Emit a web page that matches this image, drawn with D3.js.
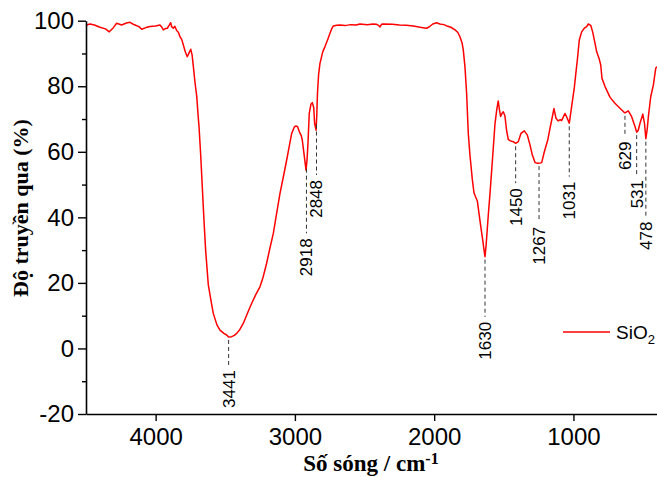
<!DOCTYPE html>
<html><head><meta charset="utf-8">
<script src="https://cdn.jsdelivr.net/npm/d3@7"></script>
<style>html,body{margin:0;padding:0;background:#fff;}svg{display:block;}</style>
</head><body>
<svg id="c" width="657" height="477"></svg>
<script>
const wavenumber = [4500,4471,4440,4400,4360,4333,4305,4280,4244,4210,4184,4165,4148,4120,4100,4070,4040,4000,3969,3955,3945,3930,3916,3900,3892,3885,3873,3862,3849,3837,3825,3813,3801,3787,3773,3760,3748,3738,3729,3717,3705,3694,3689,3677,3665,3653,3641,3622,3600,3586,3560,3538,3510,3490,3476,3454,3435,3418,3395,3370,3340,3310,3280,3251,3230,3203,3180,3155,3130,3107,3080,3059,3040,3023,3005,2992,2980,2968,2955,2947,2935,2920,2912,2905,2897,2885,2875,2865,2858,2848,2843,2838,2830,2820,2800,2784,2765,2748,2735,2724,2700,2676,2640,2600,2560,2533,2480,2440,2413,2400,2389,2378,2365,2300,2250,2200,2150,2100,2070,2054,2030,2010,1982,1960,1930,1910,1880,1850,1830,1815,1800,1791,1779,1767,1755,1743,1735,1726,1714,1703,1690,1676,1663,1651,1642,1635,1627,1619,1610,1599,1580,1563,1550,1540,1532,1523,1512,1504,1492,1480,1468,1456,1444,1432,1415,1396,1377,1353,1331,1312,1295,1276,1257,1240,1228,1209,1185,1168,1156,1140,1125,1109,1095,1085,1061,1049,1030,1013,994,980,972,958,941,922,905,893,876,862,845,833,816,804,795,773,737,702,666,640,630,606,582,558,546,535,522,502,490,480,470,462,445,426,409,400];
const transmittance = [98.6,99.0,98.7,98.0,97.5,96.6,97.8,99.2,98.7,99.3,99.5,99.0,98.7,98.2,97.4,97.9,98.2,98.4,98.7,98.0,97.2,97.6,97.7,98.8,99.4,98.2,97.7,98.3,97.0,96.5,95.1,94.3,92.6,90.5,89.0,90.2,91.3,89.5,86.0,81.0,77.0,70.5,68.0,59.5,49.3,39.2,30.0,19.5,14.0,10.7,7.2,5.6,4.6,4.1,3.5,3.6,4.0,4.6,5.8,7.7,10.8,13.8,16.5,18.8,21.5,26.0,30.5,35.1,41.5,47.3,53.0,57.5,61.8,65.6,67.5,67.9,67.6,66.1,65.0,63.6,59.5,54.4,58.0,63.6,71.7,74.5,75.0,73.5,68.5,66.6,71.0,77.8,83.5,87.0,90.5,92.1,94.2,96.2,97.6,98.4,98.6,98.7,98.5,98.8,98.7,99.0,98.8,99.0,98.9,98.6,98.1,98.9,99.0,98.9,98.7,98.6,98.4,98.0,97.8,97.7,98.3,99.0,99.4,99.0,98.8,98.4,98.0,97.2,96.4,95.1,93.3,91.1,86.0,77.8,65.6,59.0,55.5,51.5,47.5,46.3,45.0,40.5,36.5,33.0,30.0,28.0,31.5,36.2,41.5,47.3,58.5,68.7,73.0,75.5,73.0,70.8,71.8,72.2,71.0,66.5,63.8,63.4,63.2,63.1,62.6,63.1,65.6,66.4,65.1,62.1,59.0,56.7,56.5,56.6,56.7,60.0,63.5,67.2,69.7,73.2,70.2,69.4,69.8,69.5,71.7,70.7,68.7,73.8,79.5,85.0,88.0,94.1,96.6,97.7,98.2,99.0,98.6,96.6,93.1,90.5,88.5,86.5,82.4,79.9,76.6,74.8,73.3,72.2,71.9,72.5,70.7,67.7,66.0,66.5,68.7,71.5,68.7,64.0,67.0,70.7,76.8,80.4,85.5,86.0];

const peakLabels = ["3441","2918","2848","1630","1450","1267","1031","629","531","478"];
const peakWavenumber = [3476,2917,2845,1635,1415,1247,1030,630,546,480];
const peakLabelTop = [-6.6,33.6,51.4,8.1,48.9,37.1,50.9,63.1,51.4,38.7];

const xTicks = [4000,3000,2000,1000];
const yTicks = [-20,0,20,40,60,80,100];
const yMinorTicks = [-10,10,30,50,70,90];
const seriesName = "SiO";
const seriesSub = "2";

const svg = d3.select("#c");
const x = d3.scaleLinear().domain([4500,400]).range([86,657]);
const y = d3.scaleLinear().domain([-20,100]).range([414,20.7]);

// spectrum
const pts = wavenumber.map((w,i)=>[w,transmittance[i]]);
svg.append("path").datum(pts)
  .attr("fill","none").attr("stroke","#ff0000").attr("stroke-width",1.5)
  .attr("stroke-linejoin","round")
  .attr("d", d3.line().x(d=>x(d[0])).y(d=>y(d[1])));

// axes
const fmt = d => String(d);
const xAxis = svg.append("g").attr("transform","translate(0,414)")
  .call(d3.axisBottom(x).tickValues(xTicks).tickFormat(fmt).tickSize(7).tickPadding(7).tickSizeOuter(0));
const yAxis = svg.append("g").attr("transform","translate(86,0)")
  .call(d3.axisLeft(y).tickValues(yTicks).tickFormat(fmt).tickSize(8).tickPadding(4).tickSizeOuter(0));
svg.append("g").attr("transform","translate(86,0)")
  .call(d3.axisLeft(y).tickValues(yMinorTicks).tickSize(4).tickFormat("").tickSizeOuter(0))
  .select(".domain").remove();
[xAxis,yAxis].forEach(g=>{
  g.select(".domain").attr("stroke","#000").attr("stroke-width",1.6);
  g.selectAll(".tick text").attr("fill","#000")
    .style("font-family","'Liberation Sans',Arial,sans-serif").style("font-size","24px");
});
svg.selectAll(".tick line").attr("stroke","#000").attr("stroke-width",1.4);

// interpolation of curve value
const interp = w => {
  for (let i=0;i<wavenumber.length-1;i++){
    const a=wavenumber[i], b=wavenumber[i+1];
    if (w<=a && w>=b){ const t=(a-w)/(a-b); return transmittance[i]+t*(transmittance[i+1]-transmittance[i]); }
  }
  return transmittance[transmittance.length-1];
};

// peak annotations
const ann = svg.append("g");
peakLabels.forEach((lab,i)=>{
  const px = x(peakWavenumber[i]);
  const yTop = y(interp(peakWavenumber[i])) + 3;
  const yLab = y(peakLabelTop[i]);
  ann.append("line").attr("x1",px).attr("x2",px).attr("y1",yTop).attr("y2",yLab-5)
    .attr("stroke","#333").attr("stroke-width",1).attr("stroke-dasharray","4,3");
  ann.append("text").attr("transform",`translate(${px+6},${yLab}) rotate(-90)`)
    .attr("text-anchor","end")
    .style("font-family","'Liberation Sans',Arial,sans-serif").style("font-size","17px")
    .attr("fill","#000").text(lab);
});

// axis titles
svg.append("text").attr("transform","translate(28,208) rotate(-90)")
  .attr("text-anchor","middle")
  .style("font-family","'Liberation Serif','Times New Roman',serif").style("font-size","22px").style("font-weight","bold")
  .text("Độ truyền qua (%)");
const xl = svg.append("text").attr("x",371).attr("y",471).attr("text-anchor","middle")
  .style("font-family","'Liberation Serif','Times New Roman',serif").style("font-size","23px").style("font-weight","bold");
xl.append("tspan").text("Số sóng / cm");
xl.append("tspan").attr("dy",-7).style("font-size","16px").text("-1");

// legend
const lg = svg.append("g");
lg.append("line").attr("x1",563).attr("x2",610).attr("y1",332).attr("y2",332)
  .attr("stroke","#ff0000").attr("stroke-width",1.5);
const lt = lg.append("text").attr("x",616).attr("y",339)
  .style("font-family","'Liberation Sans',Arial,sans-serif").style("font-size","19px").attr("fill","#000");
lt.append("tspan").text(seriesName);
lt.append("tspan").attr("dy",5).style("font-size","13px").text(seriesSub);
</script>
</body></html>
